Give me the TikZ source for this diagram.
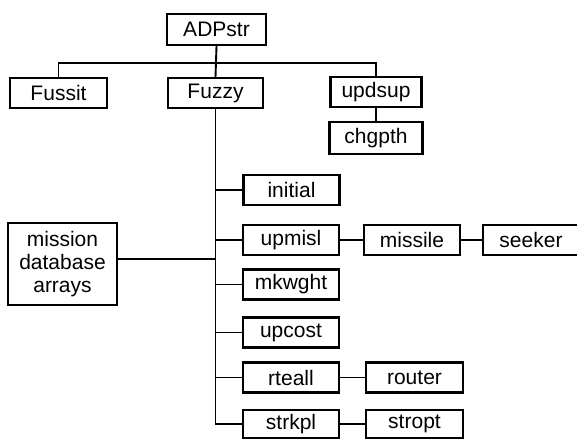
\documentclass[tikz,border=0pt]{standalone}
\usepackage{fontspec}
\setmainfont{Liberation Sans}
\begin{document}
\begin{tikzpicture}[x=1pt,y=-1pt,
  box/.style={draw, line width=2.1pt, rectangle, inner sep=0pt,
    minimum width=#1, minimum height=30pt, font=\fontsize{21}{23}\selectfont},
  box/.default=96pt,
  link/.style={line width=1.9pt}]
\useasboundingbox (0,0) rectangle (577,439);

% top level
\node[box=99pt, minimum height=31pt] (adp) at (216.5,29.5) {ADPstr};
\node[box=97pt] (fussit) at (58.5,93) {Fussit};
\node[box=95pt] (fuzzy) at (215.5,93) {Fuzzy};
\node[box=91pt] (updsup) at (376,92) {updsup};
\node[box=93pt, minimum height=32pt] (chgpth) at (376,138) {chgpth};

% children of Fuzzy
\node[box] (initial) at (291.5,190) {initial};
\node[box] (upmisl) at (291,240) {upmisl};
\node[box] (missile) at (412,240) {missile};
\node[box] (seeker) at (531,240) {seeker};
\node[box] (mkwght) at (291,284.5) {mkwght};
\node[box] (upcost) at (291,332.5) {upcost};
\node[box] (rteall) at (291,377.5) {rteall};
\node[box=97pt] (router) at (414.5,377.5) {router};
\node[box, minimum height=28pt] (strkpl) at (291,424) {strkpl};
\node[box=97pt, minimum height=28pt] (stropt) at (414.5,424) {stropt};

% data block
\node[box=109pt, minimum height=82pt, align=center,
  font=\fontsize{21}{23}\selectfont] (mission) at (62.5,264)
  {mission\\database\\arrays};

% connectors
\coordinate (bus) at (0,63);
\draw[link] (adp.south) -- (fuzzy.north);
\draw[link] (fussit.north) -- (fussit.north |- bus) -- (updsup.north |- bus) -- (updsup.north);
\draw[link] (updsup.south) -- (chgpth.north);
\draw[link] (fuzzy.south) |- (strkpl.west);
\foreach \n in {initial, upmisl, mkwght, upcost, rteall}
  \draw[link] (\n.west) -- (\n.west -| fuzzy.south);
\draw[link] (mission.east) ++(0,-5) -- +(98,0);
\draw[link] (upmisl.east) -- (missile.west);
\draw[link] (missile.east) -- (seeker.west);
\draw[link] (rteall.east) -- (router.west);
\draw[link] (strkpl.east) -- (stropt.west);
\end{tikzpicture}
\end{document}
